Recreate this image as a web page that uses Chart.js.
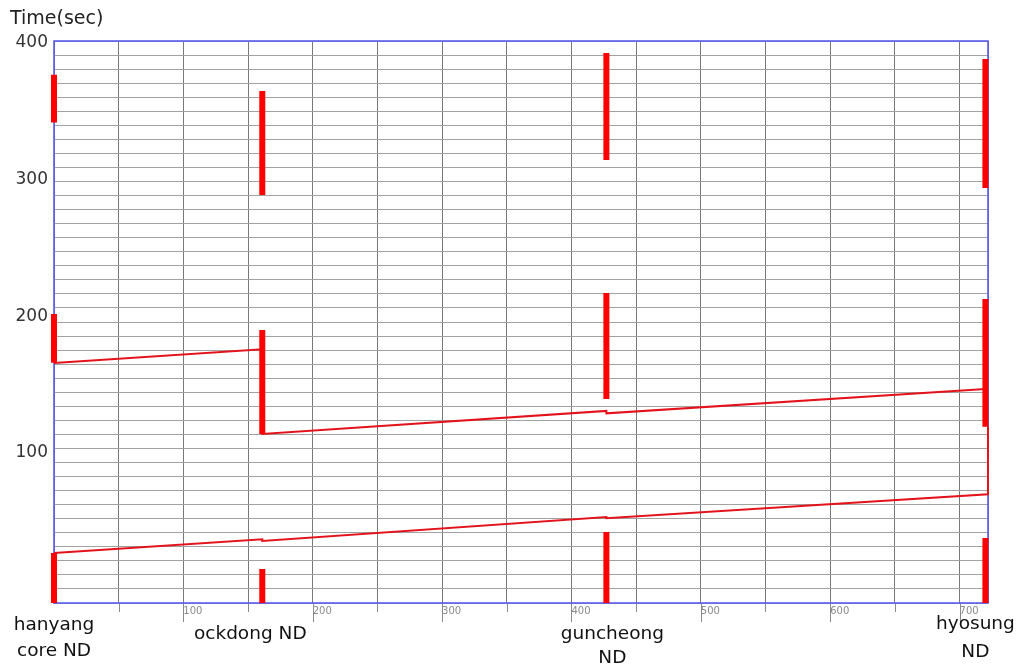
<!DOCTYPE html>
<html>
<head>
<meta charset="utf-8">
<script src="https://cdn.jsdelivr.net/npm/chart.js@4/dist/chart.umd.min.js"></script>
<style>
  html, body { margin: 0; padding: 0; background: #fff; }
  #wrap { width: 1018px; height: 666px; }
</style>
</head>
<body>
<div id="wrap"><canvas id="c" width="1018" height="666"></canvas></div>
<script>
// Stations along the corridor (distance on x)
const stationNames = [['hanyang', 'core ND'], ['ockdong ND'], ['guncheong', 'ND'], ['hyosung', 'ND']];
const stationDist = [0, 161, 427, 720];

// Green windows at each station: [start, end] in seconds
const hanyangWindows   = [[0, 35.6], [171, 205.7], [342, 376]];
const ockdongWindows   = [[0, 24.2], [120.3, 194.3], [290.4, 364.4]];
const guncheongWindows = [[0, 50.5], [145.2, 220.6], [315.3, 391.5]];
const hyosungWindows   = [[0, 46.3], [125.5, 216.4], [295.4, 387.2]];

// Trajectories (distance, time)
const upperPathDist = [0, 161, 161, 427, 427, 720];
const upperPathTime = [170.8, 180.6, 120.3, 136.7, 135.0, 152.3];
const lowerPathDist = [0, 161, 161, 427, 427, 722, 722];
const lowerPathTime = [35.6, 45.3, 44.1, 61.2, 60.3, 77.4, 125.5];

// Axis labels
const xTickLabels = [100, 200, 300, 400, 500, 600, 700];
const yTickLabels = [100, 200, 300, 400];
const yTitle = 'Time(sec)';

const FONT = "'DejaVu Sans', 'Liberation Sans', sans-serif";
const RED = '#ff0000';
const PATH_RED = '#e3121b';

function windowPoints(dist, windows) {
  const pts = [];
  windows.forEach(([a, b]) => {
    pts.push({ x: dist, y: a }, { x: dist, y: b }, { x: dist, y: null });
  });
  return pts;
}
function pathPoints(xs, ys) {
  return xs.map((x, i) => ({ x, y: ys[i] }));
}

const allWindows = [hanyangWindows, ockdongWindows, guncheongWindows, hyosungWindows];

const datasets = [];
allWindows.forEach((w, i) => {
  datasets.push({
    data: windowPoints(stationDist[i], w),
    showLine: true, spanGaps: false,
    borderColor: RED, borderWidth: 6, borderCapStyle: 'butt',
    pointRadius: 0, clip: false, order: 0, yAxisID: 'y'
  });
});
[[upperPathDist, upperPathTime], [lowerPathDist, lowerPathTime]].forEach(([xs, ys]) => {
  datasets.push({
    data: pathPoints(xs, ys),
    showLine: true, borderColor: PATH_RED, borderWidth: 2,
    borderJoinStyle: 'miter', pointRadius: 0, clip: false, order: 1, yAxisID: 'y'
  });
});

// Frame, tick extensions and text labels
const decor = {
  id: 'decor',
  beforeDatasetsDraw(chart) {
    const { ctx, chartArea: a, scales } = chart;
    ctx.save();
    // tick marks below the axis
    ctx.strokeStyle = '#8a8a8a';
    ctx.lineWidth = 1;
    scales.x.ticks.forEach(t => {
      const v = t.value;
      if (v <= 0 || v >= scales.x.max || v % 50 !== 0) return;
      const px = Math.round(scales.x.getPixelForValue(v)) + 0.5;
      const len = v % 100 === 0 ? 19 : 9;
      ctx.beginPath();
      ctx.moveTo(px, a.bottom);
      ctx.lineTo(px, a.bottom + len);
      ctx.stroke();
    });
    // plot frame
    ctx.strokeStyle = '#5c5cf2';
    ctx.lineWidth = 1.6;
    ctx.strokeRect(a.left, a.top, a.right - a.left, a.bottom - a.top);
    ctx.restore();
  },
  afterDraw(chart) {
    const { ctx, scales } = chart;
    ctx.save();
    ctx.font = '19px ' + FONT;
    ctx.fillStyle = '#222';
    ctx.textAlign = 'left';
    ctx.textBaseline = 'alphabetic';
    ctx.fillText(yTitle, 10, 24);

    const dx = [0, -12, 6, -10];
    const baselines = [[630, 656], [639], [639, 663], [629, 657]];
    ctx.font = '18.5px ' + FONT;
    ctx.fillStyle = '#111';
    ctx.textAlign = 'center';
    stationNames.forEach((lines, i) => {
      const cx = scales.x.getPixelForValue(stationDist[i]) + dx[i];
      lines.forEach((s, j) => ctx.fillText(s, cx, baselines[i][j]));
    });
    ctx.restore();
  }
};

new Chart(document.getElementById('c'), {
  type: 'scatter',
  data: { datasets },
  options: {
    responsive: false,
    animation: false,
    devicePixelRatio: 1,
    layout: { padding: { left: 0, right: 30, top: 41, bottom: 0 } },
    plugins: { legend: { display: false }, tooltip: { enabled: false } },
    scales: {
      x: {
        type: 'linear', position: 'bottom', min: 0, max: 722,
        ticks: {
          stepSize: 50, autoSkip: false, maxRotation: 0, maxTicksLimit: 100,
          align: 'start', padding: 2, color: '#8a8a8a',
          font: { family: FONT, size: 10 },
          callback: v => (xTickLabels.includes(v) ? String(v) : '')
        },
        grid: { color: '#787878', lineWidth: 1, drawTicks: false },
        border: { display: false },
        afterFit: s => { s.height = 63; }
      },
      y: {
        type: 'linear', position: 'left', min: 0, max: 400,
        ticks: { display: false, stepSize: 10, autoSkip: false, maxTicksLimit: 100 },
        grid: { color: '#a2a2a2', lineWidth: 1, drawTicks: false },
        border: { display: false },
        afterFit: s => { s.width = 0; }
      },
      yLab: {
        type: 'linear', position: 'left', min: -9.6, max: 401.1,
        afterBuildTicks: s => { s.ticks = yTickLabels.map(v => ({ value: v })); },
        ticks: {
          autoSkip: false, padding: 6, color: '#333',
          font: { family: FONT, size: 17 },
          callback: v => String(v)
        },
        grid: { display: false, drawTicks: false },
        border: { display: false },
        afterFit: s => { s.width = 54; }
      }
    }
  },
  plugins: [decor]
});
</script>
</body>
</html>
